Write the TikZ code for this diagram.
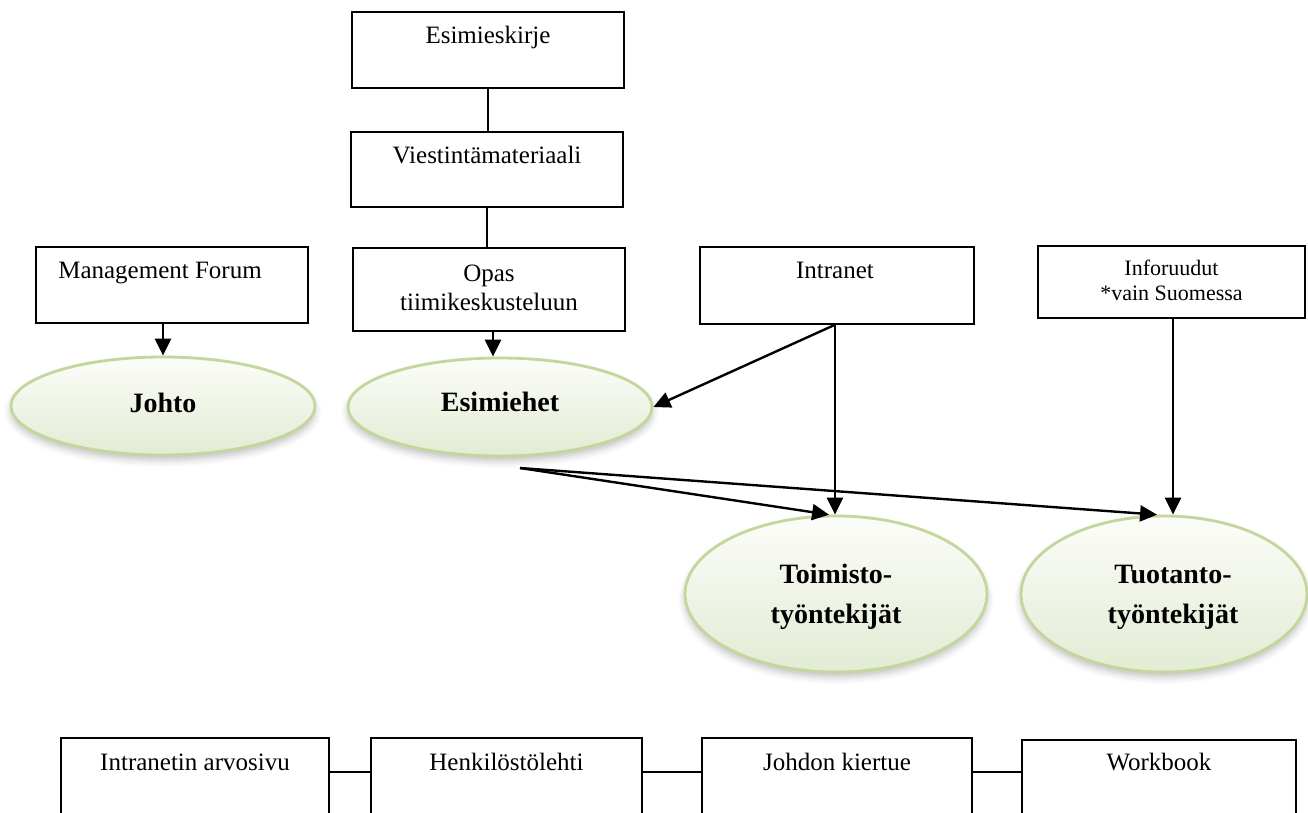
\documentclass[tikz,border=0pt]{standalone}
\usepackage{fontspec}
\setmainfont{Liberation Serif}
\usetikzlibrary{arrows.meta,shapes.geometric,shadows.blur,calc}

\definecolor{ovalline}{RGB}{195,214,155}
\definecolor{ovaltop}{RGB}{252,253,249}
\definecolor{ovalbottom}{RGB}{226,235,211}

\tikzset{
  box/.style={draw=black, line width=2.4pt, fill=white, inner sep=0pt},
  boxtext/.style={anchor=base, inner sep=0pt, align=center,
    font=\fontsize{25}{29}\selectfont},
  smalltext/.style={anchor=base, inner sep=0pt, align=center,
    font=\fontsize{22}{25}\selectfont},
  oval/.style={ellipse, draw=ovalline, line width=2.8pt, inner sep=0pt,
    top color=ovaltop, bottom color=ovalbottom,
    blur shadow={shadow xshift=0pt, shadow yshift=-5pt,
      shadow blur radius=7pt, shadow opacity=25}},
  ovaltext/.style={anchor=base, inner sep=0pt, align=center,
    font=\fontsize{28}{40}\selectfont\bfseries},
  link/.style={draw=black, line width=2.4pt},
  arr/.style={link, -{Triangle[length=17pt,width=16pt]}}
}

\begin{document}
\begin{tikzpicture}[x=1pt, y=-1pt]
  \path[use as bounding box, clip] (0,0) rectangle (1308,812);

  % column of materials for supervisors
  \node[box, minimum width=272pt, minimum height=76pt] (esk) at (488,50) {};
  \node[boxtext] (eskt) at ($(esk.north)+(0,33)$) {Esimieskirje};
  \node[box, minimum width=272pt, minimum height=75pt] (vm) at (487,169.5) {};
  \node[boxtext] (vmt) at ($(vm.north)+(0,33)$) {Viestintämateriaali};
  \node[box, minimum width=272pt, minimum height=83pt] (opas) at (489,289.5) {};
  % multi-line texts sit on the baseline of their last line
  \node[boxtext] (opast) at ($(opas.north)+(0,64)$) {Opas\\tiimikeskusteluun};

  % other channels
  \node[box, minimum width=272pt, minimum height=76pt] (mf) at (172,285) {};
  \node[boxtext] (mft) at ($(mf.north)+(-12,33)$) {Management Forum};
  \node[box, minimum width=274pt, minimum height=77pt] (intra) at (837,285.5) {};
  \node[boxtext] (intrat) at ($(intra.north)+(-2,33)$) {Intranet};
  \node[box, minimum width=267pt, minimum height=72pt] (info) at (1171.5,282) {};
  \node[smalltext] (infot) at ($(info.north)+(0,56)$) {Inforuudut\\*vain Suomessa};

  % audiences
  \node[oval, minimum width=304pt, minimum height=98pt] (johto) at (163,406) {};
  \node[ovaltext] (johtot) at ($(johto.center)+(0,6)$) {Johto};
  \node[oval, minimum width=304pt, minimum height=98pt] (esim) at (500,407) {};
  \node[ovaltext] (esimt) at ($(esim.center)+(0,4)$) {Esimiehet};
  \node[oval, minimum width=302pt, minimum height=156pt] (toim) at (836,594) {};
  \node[ovaltext] (toimt) at ($(toim.center)+(0,29)$) {Toimisto-\\työntekijät};
  \node[oval, minimum width=286pt, minimum height=156pt] (tuot) at (1164,594) {};
  \node[ovaltext] (tuott) at ($(tuot.center)+(9,29)$) {Tuotanto-\\työntekijät};
  \coordinate (esout) at (520,468);

  % connectors
  \draw[link] (esk.south) -- (esk.south |- vm.north);
  \draw[link] (vm.south) -- (vm.south |- opas.north);
  \draw[arr] (johto.north |- mf.south) -- (johto.north);
  \draw[arr] ([xshift=4pt]opas.south) -- ([xshift=4pt]opas.south |- esim.north);
  \draw[arr] ([xshift=-2pt]intra.south) -- ([xshift=-2pt]intra.south |- toim.north);
  \draw[arr] ([xshift=-3pt]intra.south) -- (esim.east);
  \draw[arr] ([xshift=1.5pt]info.south) -- ([xshift=1.5pt]info.south |- tuot.north);
  \draw[arr] (esout) -- (toim.95);
  \draw[arr] (esout) -- (tuot.95);

  % bottom row of channels
  \node[box, minimum width=268pt, minimum height=92pt] (b1) at (195,784) {};
  \node[boxtext] (b1t) at ($(b1.north)+(0,34)$) {Intranetin arvosivu};
  \node[box, minimum width=271pt, minimum height=92pt] (b2) at (506.5,784) {};
  \node[boxtext] (b2t) at ($(b2.north)+(0,34)$) {Henkilöstölehti};
  \node[box, minimum width=270pt, minimum height=92pt] (b3) at (837,784) {};
  \node[boxtext] (b3t) at ($(b3.north)+(0,34)$) {Johdon kiertue};
  \node[box, minimum width=274pt, minimum height=88pt] (b4) at (1159,784) {};
  \node[boxtext] (b4t) at ($(b4.north)+(0,32)$) {Workbook};
  \draw[link] ([yshift=12pt]b1.east) -- ([yshift=12pt]b2.west);
  \draw[link] ([yshift=12pt]b2.east) -- ([yshift=12pt]b3.west);
  \draw[link] ([yshift=12pt]b3.east) -- ([yshift=12pt]b4.west);
\end{tikzpicture}
\end{document}
